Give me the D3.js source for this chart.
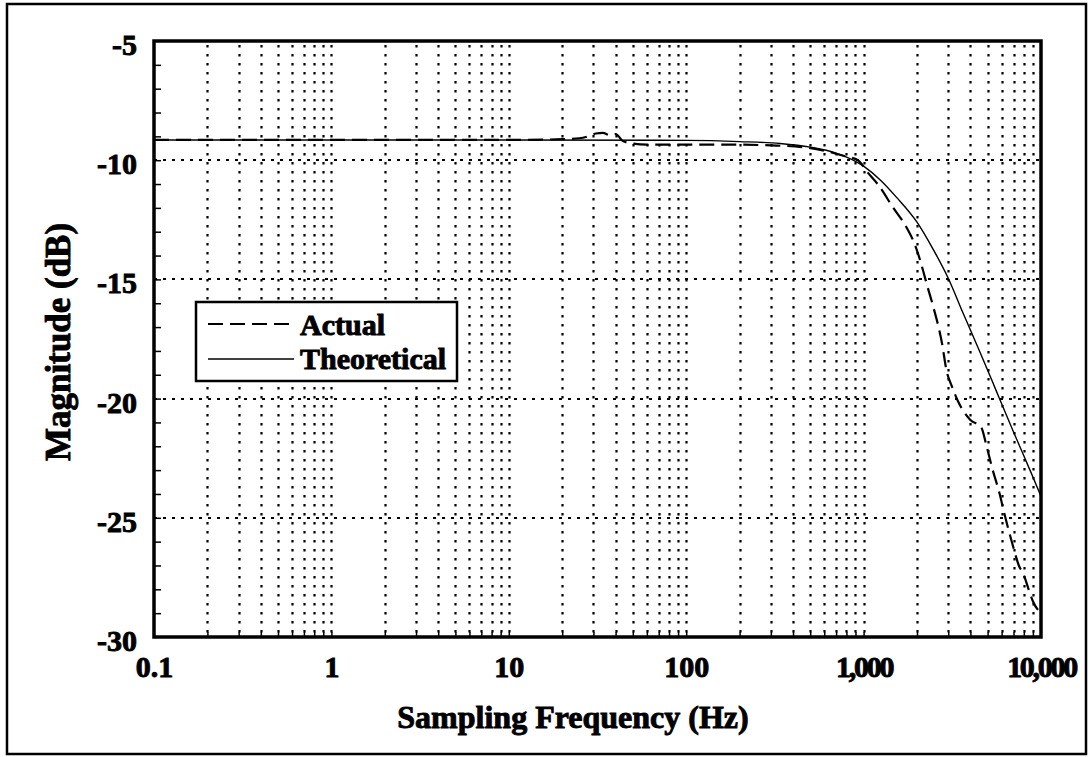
<!DOCTYPE html>
<html>
<head>
<meta charset="utf-8">
<script src="https://cdn.jsdelivr.net/npm/d3@7"></script>
<style>
  body { margin: 0; background: #fff; }
  svg text { font-family: "Liberation Serif", "Times New Roman", serif; font-weight: bold; fill: #000; stroke: #000; stroke-width: 0.9px; }
</style>
</head>
<body>
<svg id="chart" width="1092" height="757"></svg>
<script>
// axis ticks
var xTickValues = [0.1, 1, 10, 100, 1000, 10000];
var xTickLabels = ["0.1", "1", "10", "100", "1,000", "10,000"];
var yTickValues = [-5, -10, -15, -20, -25, -30];
var yGridValues = [-10, -15, -20, -25];

// theoretical response
var theoFreq = [0.1, 10, 100, 200, 338, 500, 700, 1000, 1250, 1530, 2000, 2450, 3000, 3630, 4500, 5300, 5830, 7000, 8900, 10000];
var theoMag  = [-9.15, -9.15, -9.17, -9.22, -9.3, -9.45, -9.7, -10.25, -10.85, -11.55, -12.6, -13.7, -14.95, -16.4, -18.0, -19.25, -20.0, -21.4, -23.2, -24.1];

var actFreq = [0.1, 1, 10, 20, 25, 28, 31, 34, 37, 40, 44, 50, 60, 100, 200, 300, 450, 600, 800, 930, 1050, 1200, 1470, 1740, 1960, 2140, 2270, 2460, 2770, 2930, 3150, 3400, 4000, 4600, 4900, 5300, 5800, 6300, 6900, 7500, 8000, 8600, 9000, 10000];
var actMag  = [-9.15, -9.15, -9.15, -9.12, -9.08, -9.0, -8.88, -8.85, -8.95, -8.9, -9.2, -9.3, -9.35, -9.35, -9.35, -9.38, -9.45, -9.6, -9.85, -10.0, -10.5, -11.0, -12.0, -12.8, -13.6, -14.5, -15.2, -16.1, -17.7, -18.8, -19.5, -20.1, -20.9, -21.2, -21.9, -22.9, -23.9, -25.0, -26.1, -27.0, -27.4, -28.1, -28.5, -29.0];

var legendLabels = ["Actual", "Theoretical"];

var svg = d3.select("#chart");
var plotL = 154, plotR = 1041, plotT = 41, plotB = 637;

var x = d3.scaleLog().domain([0.1, 10000]).range([plotL, plotR]);
var y = d3.scaleLinear().domain([-30, -5]).range([plotB, plotT]);

// outer frame
svg.append("rect")
    .attr("x", 7).attr("y", 4)
    .attr("width", 1079).attr("height", 750)
    .attr("fill", "none").attr("stroke", "#000").attr("stroke-width", 2.5);

// vertical dotted grid at every log tick
var gridX = x.ticks().filter(function (d) { return d > 0.1001 && d < 9999; });
svg.append("g").selectAll("line").data(gridX).enter().append("line")
    .attr("x1", function (d) { return Math.round(x(d)) + 0.5; })
    .attr("x2", function (d) { return Math.round(x(d)) + 0.5; })
    .attr("y1", plotT + 4).attr("y2", plotB)
    .attr("stroke", "#000").attr("stroke-width", 2.2)
    .attr("stroke-dasharray", "2.5,6.5");

// horizontal dotted grid
svg.append("g").selectAll("line").data(yGridValues).enter().append("line")
    .attr("x1", plotL).attr("x2", plotR)
    .attr("y1", function (d) { return Math.round(y(d)); })
    .attr("y2", function (d) { return Math.round(y(d)); })
    .attr("stroke", "#000").attr("stroke-width", 2.2)
    .attr("stroke-dasharray", "3,6");

// minor ticks on left spine (inside) and bottom spine (pointing up)
var yMinor = d3.range(-29, -5, 1);
svg.append("g")
    .attr("transform", "translate(" + plotL + ",0)")
    .call(d3.axisRight(y).tickValues(yMinor).tickSize(7).tickFormat(""))
    .call(function (g) { g.select(".domain").remove(); })
    .selectAll("line").attr("stroke-width", 1.5);

svg.append("g")
    .attr("transform", "translate(0," + plotB + ")")
    .call(d3.axisTop(x).tickValues(gridX).tickSize(5).tickFormat(""))
    .call(function (g) { g.select(".domain").remove(); })
    .selectAll("line").attr("stroke-width", 1.5);

// curves
var line = d3.line()
    .x(function (d) { return x(d[0]); })
    .y(function (d) { return y(d[1]); })
    .curve(d3.curveMonotoneX);

svg.append("path")
    .datum(d3.zip(theoFreq, theoMag))
    .attr("d", line)
    .attr("fill", "none").attr("stroke", "#000").attr("stroke-width", 1.4);

svg.append("path")
    .datum(d3.zip(actFreq, actMag))
    .attr("d", line)
    .attr("fill", "none").attr("stroke", "#000").attr("stroke-width", 2.2)
    .attr("stroke-dasharray", "15,7");

// plot border
svg.append("rect")
    .attr("x", plotL).attr("y", plotT)
    .attr("width", plotR - plotL).attr("height", plotB - plotT)
    .attr("fill", "none").attr("stroke", "#000").attr("stroke-width", 3.5);

// y tick labels (plain hyphen, as in the original)
svg.append("g")
    .attr("transform", "translate(" + plotL + ",0)")
    .call(d3.axisLeft(y).tickValues(yTickValues).tickSize(0).tickPadding(17)
        .tickFormat(function (d) { return String(d); }))
    .call(function (g) { g.select(".domain").remove(); })
    .selectAll("text")
    .attr("dy", "0.45em")
    .style("font-size", "30px");

// x tick labels
svg.append("g")
    .attr("transform", "translate(0," + plotB + ")")
    .call(d3.axisBottom(x).tickValues(xTickValues).tickSize(0).tickPadding(19)
        .tickFormat(function (d, i) { return xTickLabels[i]; }))
    .call(function (g) { g.select(".domain").remove(); })
    .selectAll("text")
    .style("font-size", "30px")
    .style("letter-spacing", function (d, i) { return xTickLabels[i].indexOf(",") > -1 ? "-2.3px" : "0px"; });

// axis titles
svg.append("text")
    .attr("x", 573).attr("y", 728)
    .attr("text-anchor", "middle")
    .style("font-size", "32px")
    .text("Sampling Frequency (Hz)");

svg.append("text")
    .attr("transform", "translate(70,342) rotate(-90)")
    .attr("text-anchor", "middle")
    .style("font-size", "35px")
    .text("Magnitude (dB)");

// legend
var legend = svg.append("g");
legend.append("rect")
    .attr("x", 196).attr("y", 302)
    .attr("width", 261).attr("height", 79)
    .attr("fill", "#fff").attr("stroke", "#000").attr("stroke-width", 2.5);

legend.selectAll("line.key").data(legendLabels).enter().append("line")
    .attr("x1", 208).attr("x2", 294)
    .attr("y1", function (d, i) { return 324 + i * 35; })
    .attr("y2", function (d, i) { return 324 + i * 35; })
    .attr("stroke", "#000")
    .attr("stroke-width", function (d, i) { return i === 0 ? 2 : 1.4; })
    .attr("stroke-dasharray", function (d, i) { return i === 0 ? "15,7" : null; });

legend.selectAll("text").data(legendLabels).enter().append("text")
    .attr("x", 300)
    .attr("y", function (d, i) { return 335 + i * 34; })
    .style("font-size", "30px")
    .text(function (d) { return d; });
</script>
</body>
</html>
